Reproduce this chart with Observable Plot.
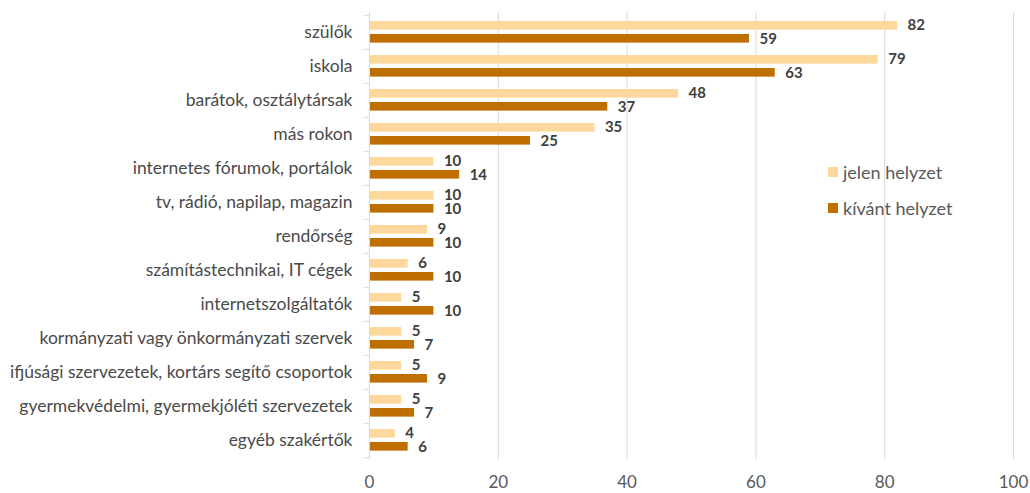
<!DOCTYPE html>
<html>
<head>
<meta charset="utf-8">
<script src="https://cdn.jsdelivr.net/npm/d3@7"></script>
<script src="https://cdn.jsdelivr.net/npm/@observablehq/plot@0.6"></script>
<style>
  html, body { margin: 0; padding: 0; background: #fff; }
  #wrap { position: relative; width: 1030px; height: 493px; }
  #legend { position: absolute; left: 828px; top: 154px; font-family: Lato, sans-serif; }
  .lg-item { display: flex; align-items: center; height: 36px; font-size: 18px; color: #595959; }
  .lg-sw { width: 10px; height: 10px; margin-right: 5px; }
</style>
</head>
<body>
<div id="wrap"><div id="chart"></div><div id="legend"></div></div>
<script>
const categories = [
  "szülők",
  "iskola",
  "barátok, osztálytársak",
  "más rokon",
  "internetes fórumok, portálok",
  "tv, rádió, napilap, magazin",
  "rendőrség",
  "számítástechnikai, IT cégek",
  "internetszolgáltatók",
  "kormányzati vagy önkormányzati szervek",
  "ifjúsági szervezetek, kortárs segítő csoportok",
  "gyermekvédelmi, gyermekjóléti szervezetek",
  "egyéb szakértők"
];
const jelen = [82, 79, 48, 35, 10, 10, 9, 6, 5, 5, 5, 5, 4];
const kivant = [59, 63, 37, 25, 14, 10, 10, 10, 10, 7, 9, 7, 6];
const seriesNames = ["jelen helyzet", "kívánt helyzet"];
const seriesColors = ["#FDD79B", "#BF6F00"];
const xTicks = [0, 20, 40, 60, 80, 100];

const rowsJ = categories.map((c, i) => ({cat: c, value: jelen[i]}));
const rowsK = categories.map((c, i) => ({cat: c, value: kivant[i]}));

const W = 1030, H = 493;
const mT = 12, mB = 34, mL = 369, mR = 17;
const bw = (H - mT - mB) / categories.length;

const chart = Plot.plot({
  width: W,
  height: H,
  marginTop: mT,
  marginBottom: mB,
  marginLeft: mL,
  marginRight: mR,
  style: {fontFamily: "Lato, sans-serif", background: "#fff", overflow: "visible"},
  x: {domain: [0, 100], axis: null},
  y: {type: "band", domain: categories, padding: 0, axis: null},
  marks: [
    Plot.ruleX(xTicks.slice(1), {stroke: "#d9d9d9", strokeWidth: 1}),
    Plot.barX(rowsJ, {y: "cat", x: "value", fill: seriesColors[0], insetTop: 6, insetBottom: bw - 15}),
    Plot.barX(rowsK, {y: "cat", x: "value", fill: seriesColors[1], insetTop: 19, insetBottom: bw - 28}),
    Plot.text(rowsJ, {y: "cat", x: "value", text: "value", dx: 10, dy: -7, textAnchor: "start", fontWeight: "bold", fill: "#404040", fontSize: 15}),
    Plot.text(rowsK, {y: "cat", x: "value", text: "value", dx: 10, dy: 7, textAnchor: "start", fontWeight: "bold", fill: "#404040", fontSize: 15}),
    Plot.ruleX([0], {stroke: "#d9d9d9", strokeWidth: 1}),
    Plot.axisY({tickSize: 0, tickPadding: 17, fontSize: 17.5, fill: "#4a4a4a", label: null}),
    Plot.axisY({tickSize: 5, text: null, dy: -bw / 2, stroke: "#d9d9d9", label: null}),
    Plot.axisY([categories[categories.length - 1]], {tickSize: 5, text: null, dy: bw / 2, stroke: "#d9d9d9", label: null}),
    Plot.axisX(xTicks, {tickSize: 0, tickPadding: 16, fontSize: 17, fill: "#595959", label: null})
  ]
});
document.getElementById("chart").appendChild(chart);

const lg = document.getElementById("legend");
seriesNames.forEach((n, i) => {
  const item = document.createElement("div");
  item.className = "lg-item";
  const sw = document.createElement("span");
  sw.className = "lg-sw";
  sw.style.background = seriesColors[i];
  const t = document.createElement("span");
  t.textContent = n;
  item.appendChild(sw);
  item.appendChild(t);
  lg.appendChild(item);
});
</script>
</body>
</html>
